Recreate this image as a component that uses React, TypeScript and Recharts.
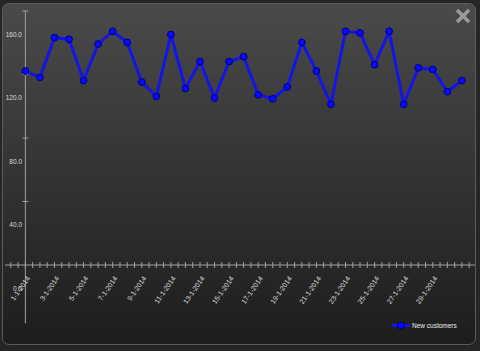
import React from 'react';
import { LineChart, Line, XAxis, YAxis, ReferenceLine, Legend } from 'recharts';

// January 2014, one point per day
const days = [
  1, 2, 3, 4, 5, 6, 7, 8, 9, 10, 11, 12, 13, 14, 15, 16,
  17, 18, 19, 20, 21, 22, 23, 24, 25, 26, 27, 28, 29, 30, 31,
];
const newCustomers = [
  137, 133, 158, 157, 131, 154, 162, 155, 130, 121, 160, 126, 143, 120, 143, 146,
  122, 119.5, 127, 155, 137, 116, 162, 161, 141, 162, 116, 139, 138, 124, 131,
];
const labelDays = [1, 3, 5, 7, 9, 11, 13, 15, 17, 19, 21, 23, 25, 27, 29];
const yLabels = [0, 40, 80, 120, 160];
const yMarks = [54.8, 94.8, 134.8, 174.8];
const xCross = 14.8;
const xDomain = [-0.4, 31.9];
const yDomain = [xCross, 174.8];

const chartData = days.map((day, i) => ({ day, customers: newCustomers[i] }));
const xTicks = [0, ...days.flatMap((d) => [d - 0.5, d]), 31.5];

const textColor = '#dcdcdc';
const axisColor = '#a0a0a0';
const lineColor = '#1414e6';
const font = '"Liberation Sans", Arial, sans-serif';

function DateTick({ x, y, payload }: any) {
  const v = payload.value;
  const showLabel = labelDays.includes(v);
  return (
    <g>
      <line x1={x} x2={x} y1={y - 3} y2={y + 3} stroke={axisColor} />
      {showLabel && (
        <text
          transform={`translate(${x + 3},${y + 12}) rotate(-55)`}
          textAnchor="end"
          dy="0.35em"
          fontSize={7}
          fontFamily={font}
          fill={textColor}
        >
          {`${v}-1-2014`}
        </text>
      )}
    </g>
  );
}

function ValueTick({ x, y, payload }: any) {
  return (
    <text x={x + 17} y={y} dy="0.35em" textAnchor="end" fontSize={6.5} fontFamily={font} fill={textColor}>
      {Number(payload.value).toFixed(1)}
    </text>
  );
}

function LegendContent({ payload }: any) {
  return (
    <div style={{ display: 'flex', alignItems: 'center', fontFamily: font, fontSize: 6.5, color: '#eeeeee' }}>
      {(payload || []).map((p: any) => (
        <span key={p.value} style={{ display: 'flex', alignItems: 'center' }}>
          <svg width={18} height={9} style={{ marginRight: 2 }}>
            <line x1={0} x2={18} y1={4.5} y2={4.5} stroke={lineColor} strokeWidth={3} />
            <circle cx={9} cy={4.5} r={3.5} fill="#0a0aff" stroke="#00007a" />
          </svg>
          <span>{p.value}</span>
        </span>
      ))}
    </div>
  );
}

export default function App() {
  return (
    <div style={{ position: 'fixed', left: 0, top: 0, width: 480, height: 351, background: '#262626', overflow: 'hidden' }}>
      <div
        style={{
          position: 'absolute',
          left: 2,
          top: 3,
          width: 472,
          height: 340,
          border: '1px solid #5c5c5c',
          borderRadius: 7,
          background: 'linear-gradient(#4a4a4a, #1d1d1d)',
        }}
      />
      <div style={{ position: 'absolute', left: 0, top: 0 }}>
        <LineChart width={480} height={351} data={chartData} margin={{ top: 11, right: 5, bottom: 0, left: 4 }}>
          <XAxis
            dataKey="day"
            type="number"
            domain={xDomain}
            allowDataOverflow
            ticks={xTicks}
            interval={0}
            tickSize={0}
            tickMargin={0}
            tick={<DateTick />}
            axisLine={{ stroke: axisColor }}
            height={86}
          />
          <YAxis
            type="number"
            domain={yDomain}
            allowDataOverflow
            ticks={yLabels}
            interval={0}
            width={1}
            tickSize={0}
            tickMargin={0}
            axisLine={false}
            tickLine={false}
            tick={<ValueTick />}
          />
          <ReferenceLine
            segment={[{ x: 1, y: -22 }, { x: 1, y: 174.8 }]}
            stroke={axisColor}
            ifOverflow="visible"
          />
          {yMarks.map((m) => (
            <ReferenceLine
              key={m}
              segment={[{ x: 0.8, y: m }, { x: 1.2, y: m }]}
              stroke={axisColor}
              ifOverflow="visible"
            />
          ))}
          <Legend
            layout="horizontal"
            verticalAlign="middle"
            align="center"
            content={<LegendContent />}
            wrapperStyle={{ left: 392, top: 321, width: 80 }}
          />
          <Line
            type="linear"
            dataKey="customers"
            name="New customers"
            stroke={lineColor}
            strokeWidth={3}
            dot={{ r: 3.4, fill: '#0a0aff', stroke: '#00007a', strokeWidth: 1 }}
            isAnimationActive={false}
          />
        </LineChart>
      </div>
      <svg width={16} height={16} style={{ position: 'absolute', left: 455, top: 8 }}>
        <line x1={2} y1={2} x2={14} y2={14} stroke="#9a9a9a" strokeWidth={3.5} />
        <line x1={14} y1={2} x2={2} y2={14} stroke="#9a9a9a" strokeWidth={3.5} />
      </svg>
    </div>
  );
}
